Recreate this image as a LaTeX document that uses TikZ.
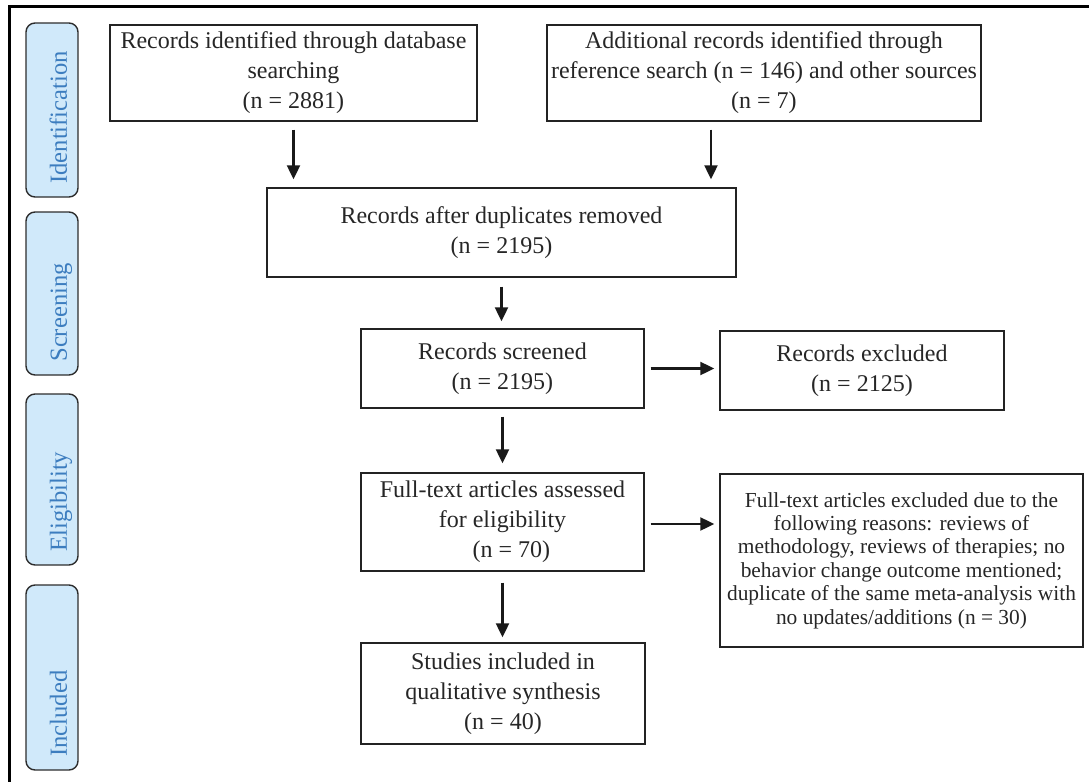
\documentclass[tikz,border=0pt]{standalone}
\usepackage{fontspec}
\setmainfont{Liberation Serif}
\usetikzlibrary{arrows.meta,calc}
\definecolor{pillfill}{RGB}{208,233,250}
\definecolor{pilltext}{RGB}{60,125,191}
\definecolor{pillborder}{RGB}{45,45,45}
\definecolor{boxline}{RGB}{35,35,35}
\begin{document}
\begin{tikzpicture}[x=0.5pt,y=-0.5pt,
  box/.style={draw=boxline,line width=0.7pt,inner sep=0pt,align=center,
    font=\fontsize{12}{15}\selectfont,text=black!85},
  smallbox/.style={box,font=\fontsize{10.7}{11.7}\selectfont},
  pill/.style={draw=pillborder,fill=pillfill,line width=0.7pt,rounded corners=4.5pt,
    minimum width=26pt,inner sep=0pt},
  pilllabel/.style={rotate=90,anchor=base west,inner sep=0pt,text=pilltext,
    font=\fontsize{12.3}{14}\selectfont},
  arr/.style={line width=1.1pt,-{Triangle[length=7pt,width=6.5pt]},black!90}]
\useasboundingbox (0,0) rectangle (1089,782);
% outer frame (only top and left edges visible)
\draw[line width=1.5pt] (9,782) -- (9,6) -- (1089,6);

% phase pills
\node[pill,minimum height=87pt]   (p1) at (52,110)   {};
\node[pill,minimum height=81.5pt] (p2) at (52,293.5) {};
\node[pill,minimum height=85.5pt] (p3) at (52,479.5) {};
\node[pill,minimum height=92.5pt] (p4) at (52,677.5) {};
\node[pilllabel] (l1) at (67,184) {Identification};
\node[pilllabel] (l2) at (67,362) {Screening};
\node[pilllabel] (l3) at (67,552) {Eligibility};
\node[pilllabel] (l4) at (67,757) {Included};

% boxes
\node[box,minimum width=183.5pt,minimum height=48pt] (b1) at (293.5,73)
  {Records identified through database\\searching\\(n = 2881)};
\node[box,minimum width=217pt,minimum height=48pt] (b2) at (764,73)
  {Additional records identified through\\reference search (n = 146) and other sources\\(n = 7)};
\node[box,minimum width=234.5pt,minimum height=44.5pt] (b3) at (501.5,232.5)
  {Records after duplicates removed\\(n = 2195)};
\node[box,minimum width=141.5pt,minimum height=39.5pt] (b4) at (502.5,368.5)
  {Records screened\\(n = 2195)};
\node[box,minimum width=142pt,minimum height=39.5pt] (b5) at (862,370.5)
  {Records excluded\\(n = 2125)};
\node[box,minimum width=141.5pt,minimum height=49pt] (b6) at (502.5,522)
  {Full-text articles assessed\\for eligibility\\\hspace*{9pt}(n = 70)};
\node[smallbox,minimum width=181.5pt,minimum height=86.5pt] (b7) at (901.5,560.5)
  {Full-text articles excluded due to the\\following reasons: reviews of\\methodology, reviews of therapies; no\\behavior change outcome mentioned;\\duplicate of the same meta-analysis with\\no updates/additions (n = 30)};
\node[box,minimum width=142pt,minimum height=50.5pt] (b8) at (503,693.5)
  {Studies included in\\qualitative synthesis\\(n = 40)};

% connectors
\draw[arr,shorten <=4pt,shorten >=4pt] (b1.south) -- (b1.south |- b3.north);
\draw[arr,shorten <=4pt,shorten >=4pt] ([xshift=-26.5pt]b2.south) -- ([xshift=-26.5pt]b2.south |- b3.north);
\draw[arr,shorten <=4.5pt,shorten >=3.5pt] (b3.south) -- (b3.south |- b4.north);
\draw[arr,shorten <=3pt,shorten >=2.5pt] (b4.east) -- (b4.east -| b5.west);
\draw[arr,shorten <=4pt,shorten >=4.5pt] (b4.south) -- (b4.south |- b6.north);
\draw[arr,shorten <=3pt,shorten >=2.5pt] ([yshift=-1pt]b6.east) -- ([yshift=-1pt]b6.east -| b7.west);
\draw[arr,shorten <=5.5pt,shorten >=2.5pt] (b6.south) -- (b6.south |- b8.north);
\end{tikzpicture}
\end{document}
